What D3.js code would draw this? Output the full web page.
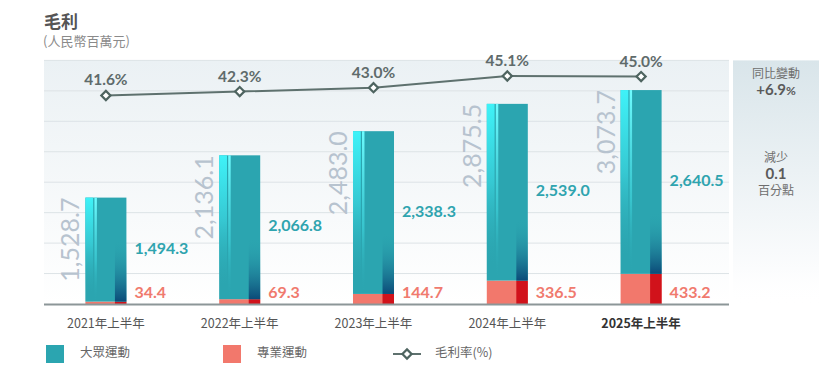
<!DOCTYPE html>
<html><head><meta charset="utf-8">
<script src="https://cdn.jsdelivr.net/npm/d3@7"></script>
<style>body{margin:0;background:#fff} svg{display:block}</style>
</head><body>
<svg id="c" width="830" height="390"></svg>
<script>
const categories = ["2021年上半年","2022年上半年","2023年上半年","2024年上半年","2025年上半年"];
const massValues = [1494.3, 2066.8, 2338.3, 2539.0, 2640.5];
const proValues = [34.4, 69.3, 144.7, 336.5, 433.2];
const totalValues = [1528.7, 2136.1, 2483.0, 2875.5, 3073.7];
const marginValues = [41.6, 42.3, 43.0, 45.1, 45.0];
const gridTicks = [437.5, 875, 1312.5, 1750, 2187.5, 2625, 3062.5, 3500];
const legendLabels = ["大眾運動", "專業運動", "毛利率(%)"];
const titleText = "毛利";
const subtitleText = "(人民幣百萬元)";
const panelTexts = [["同比變動", "+6.9", "%"], ["減少", "0.1", "百分點"]];

const svg = d3.select("#c");
const NUM = "Lato, 'Noto Sans', sans-serif";
const CJK = "'Noto Sans CJK TC', 'Noto Sans', sans-serif";
const teal = "#2ba5b0", pink = "#f2786c", darkRed = "#d1121b";

const plotL = 44, plotR = 729, base = 304, plotTop = 60.4;
const x = d3.scaleBand().domain(categories).range([39, 708]).paddingInner(0.6935).paddingOuter(0.34675);
const y = d3.scaleLinear().domain([0, 3500]).range([base, plotTop]);
const yp = d3.scaleLinear().domain([30, 50]).range([160.1, 48.7]);
const fmt = d3.format(",.1f");

const defs = svg.append("defs");
function vgrad(id, stops) {
  const g = defs.append("linearGradient").attr("id", id).attr("x1", 0).attr("y1", 0).attr("x2", 0).attr("y2", 1);
  stops.forEach(s => g.append("stop").attr("offset", s[0]).attr("stop-color", s[1]).attr("stop-opacity", s[2] == null ? 1 : s[2]));
}
vgrad("plotBg", [[0, "#ebf1f4"], [1, "#ffffff"]]);
vgrad("panelBg", [[0, "#d9e5ea"], [0.85, "#fbfcfd"], [1, "#ffffff", 0]]);
vgrad("cyanL", [[0, "#3ff2f8"], [0.45, "#36c8d2"], [0.9, teal, 0.2]]);
vgrad("cyanLine", [[0, "#6ffcff"], [0.6, "#40d8e0", 0.6], [1, teal, 0]]);
vgrad("darkR", [[0, teal, 0], [1, "#0b4a78"]]);

// backgrounds
svg.append("rect").attr("x", plotL).attr("y", plotTop).attr("width", plotR - plotL).attr("height", base - plotTop).attr("fill", "url(#plotBg)");
svg.append("rect").attr("x", 733).attr("y", plotTop).attr("width", 86).attr("height", base - plotTop + 2).attr("fill", "url(#panelBg)");

// gridlines
svg.append("g").selectAll("line").data(gridTicks).join("line")
  .attr("x1", plotL).attr("x2", plotR).attr("y1", d => y(d)).attr("y2", d => y(d))
  .attr("stroke", "#dde3e6").attr("stroke-width", 1);

// bars
const bw = x.bandwidth();
const bars = svg.append("g").selectAll("g").data(categories).join("g")
  .attr("transform", d => `translate(${x(d)},0)`);
bars.append("rect").attr("x", 0).attr("width", bw)
  .attr("y", (d, i) => y(proValues[i])).attr("height", (d, i) => base - y(proValues[i])).attr("fill", pink);
bars.append("rect").attr("x", bw * 0.72).attr("width", bw * 0.28)
  .attr("y", (d, i) => y(proValues[i])).attr("height", (d, i) => base - y(proValues[i])).attr("fill", darkRed);
const tTop = i => y(proValues[i] + massValues[i]);
const tBot = i => y(proValues[i]);
bars.append("rect").attr("x", 0).attr("width", bw)
  .attr("y", (d, i) => tTop(i)).attr("height", (d, i) => tBot(i) - tTop(i)).attr("fill", teal);
bars.append("rect").attr("x", 0).attr("width", bw * 0.19)
  .attr("y", (d, i) => tTop(i)).attr("height", (d, i) => tBot(i) - tTop(i)).attr("fill", "url(#cyanL)");
bars.append("rect").attr("x", bw * 0.22).attr("width", bw * 0.06)
  .attr("y", (d, i) => tTop(i)).attr("height", (d, i) => tBot(i) - tTop(i)).attr("fill", "url(#cyanLine)");
bars.append("rect").attr("x", bw * 0.72).attr("width", bw * 0.28)
  .attr("y", (d, i) => tBot(i) - Math.min(62, tBot(i) - tTop(i))).attr("height", (d, i) => Math.min(62, tBot(i) - tTop(i)))
  .attr("fill", "url(#darkR)");

// baseline
svg.append("line").attr("x1", plotL).attr("x2", plotR).attr("y1", base + 0.5).attr("y2", base + 0.5)
  .attr("stroke", "#8c9698").attr("stroke-width", 2);

// vertical total labels
bars.append("text")
  .attr("transform", (d, i) => `translate(-6,${y(totalValues[i])}) rotate(-90)`)
  .attr("text-anchor", "end").attr("font-family", NUM).attr("font-size", 25).attr("font-weight", 400)
  .attr("fill", "#b7c3cf").text((d, i) => fmt(totalValues[i]));

// value labels
bars.append("text").attr("x", bw + 8).attr("y", (d, i) => (tTop(i) + tBot(i)) / 2)
  .attr("dominant-baseline", "middle").attr("font-family", NUM).attr("font-size", 16).attr("font-weight", 700)
  .attr("fill", "#2fa4af").text((d, i) => fmt(massValues[i]));
bars.append("text").attr("x", bw + 8).attr("y", base - 10)
  .attr("dominant-baseline", "middle").attr("font-family", NUM).attr("font-size", 16).attr("font-weight", 700)
  .attr("fill", "#f07a6e").text((d, i) => fmt(proValues[i]));

// margin line
const cx = d => x(d) + bw / 2;
const line = d3.line().x((d, i) => cx(categories[i])).y(d => yp(d));
svg.append("path").datum(marginValues).attr("d", line).attr("fill", "none").attr("stroke", "#5e716e").attr("stroke-width", 2);
svg.append("g").selectAll("path").data(marginValues).join("path")
  .attr("transform", (d, i) => `translate(${cx(categories[i])},${yp(d)}) rotate(45)`)
  .attr("d", d3.symbol().type(d3.symbolSquare).size(42))
  .attr("fill", "#fff").attr("stroke", "#4e6460").attr("stroke-width", 2.2);
svg.append("g").selectAll("text").data(marginValues).join("text")
  .attr("x", (d, i) => cx(categories[i])).attr("y", d => yp(d) - 10)
  .attr("text-anchor", "middle").attr("font-family", NUM).attr("font-size", 15.5).attr("font-weight", 700)
  .attr("fill", "#5f6b6b").text(d => d3.format(".1f")(d) + "%");

// x axis labels
svg.append("g").selectAll("text").data(categories).join("text")
  .attr("x", d => cx(d)).attr("y", 328).attr("text-anchor", "middle")
  .attr("font-family", CJK).attr("font-size", 12.5).attr("font-weight", (d, i) => i === categories.length - 1 ? 700 : 400)
  .attr("fill", (d, i) => i === categories.length - 1 ? "#333" : "#555").text(d => d);

// title
svg.append("text").attr("x", 44).attr("y", 28).attr("font-family", CJK).attr("font-size", 17).attr("font-weight", 700)
  .attr("fill", "#555").text(titleText);
svg.append("text").attr("x", 43).attr("y", 46).attr("font-family", CJK).attr("font-size", 13)
  .attr("fill", "#8a8a8a").text(subtitleText);

// right panel
const pc = 776;
svg.append("text").attr("x", pc).attr("y", 78).attr("text-anchor", "middle").attr("font-family", CJK).attr("font-size", 12).attr("fill", "#6e6e6e").text(panelTexts[0][0]);
const pt = svg.append("text").attr("x", pc).attr("y", 95).attr("text-anchor", "middle").attr("font-family", NUM).attr("font-weight", 700).attr("fill", "#5a5a5a");
pt.append("tspan").attr("font-size", 15).text(panelTexts[0][1]);
pt.append("tspan").attr("font-size", 12).text(panelTexts[0][2]);
svg.append("text").attr("x", pc).attr("y", 162).attr("text-anchor", "middle").attr("font-family", CJK).attr("font-size", 12).attr("fill", "#6e6e6e").text(panelTexts[1][0]);
svg.append("text").attr("x", pc).attr("y", 179).attr("text-anchor", "middle").attr("font-family", NUM).attr("font-size", 15).attr("font-weight", 700).attr("fill", "#5a5a5a").text(panelTexts[1][1]);
svg.append("text").attr("x", pc).attr("y", 195).attr("text-anchor", "middle").attr("font-family", CJK).attr("font-size", 12).attr("fill", "#6e6e6e").text(panelTexts[1][2]);

// legend
const lg = svg.append("g");
lg.append("rect").attr("x", 46).attr("y", 345).attr("width", 18).attr("height", 18).attr("fill", teal);
lg.append("text").attr("x", 80).attr("y", 354).attr("dominant-baseline", "middle").attr("font-family", CJK).attr("font-size", 12.5).attr("fill", "#666").text(legendLabels[0]);
lg.append("rect").attr("x", 223).attr("y", 345).attr("width", 18).attr("height", 18).attr("fill", pink);
lg.append("text").attr("x", 257).attr("y", 354).attr("dominant-baseline", "middle").attr("font-family", CJK).attr("font-size", 12.5).attr("fill", "#666").text(legendLabels[1]);
lg.append("line").attr("x1", 393).attr("x2", 421).attr("y1", 354).attr("y2", 354).attr("stroke", "#5e716e").attr("stroke-width", 2);
lg.append("path").attr("transform", "translate(407,354) rotate(45)").attr("d", d3.symbol().type(d3.symbolSquare).size(42))
  .attr("fill", "#fff").attr("stroke", "#4e6460").attr("stroke-width", 2.2);
lg.append("text").attr("x", 435).attr("y", 354).attr("dominant-baseline", "middle").attr("font-family", CJK).attr("font-size", 12.5).attr("fill", "#666").text(legendLabels[2]);
</script>
</body></html>
